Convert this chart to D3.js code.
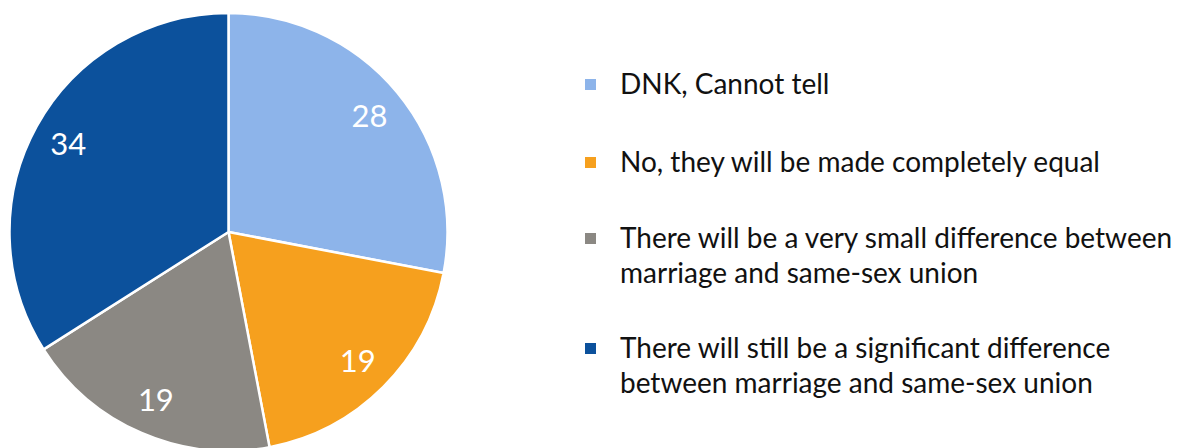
<!DOCTYPE html>
<html>
<head>
<meta charset="utf-8">
<script src="https://cdn.jsdelivr.net/npm/d3@7"></script>
<style>
  html, body { margin: 0; padding: 0; background: #ffffff; }
  svg text { font-family: "Lato", "Open Sans", sans-serif; }
</style>
</head>
<body>
<svg id="chart" width="1180" height="448"></svg>
<script>
// Survey answers, shares in percent
const categories = [
  "DNK, Cannot tell",
  "No, they will be made completely equal",
  "There will be a very small difference between marriage and same-sex union",
  "There will still be a significant difference between marriage and same-sex union"
];
const values = [28, 19, 19, 34];
const colors = ["#8db4ea", "#f6a01e", "#8b8883", "#0c519c"];
// Legend text split into display lines
const legendLines = [
  ["DNK, Cannot tell"],
  ["No, they will be made completely equal"],
  ["There will be a very small difference between", "marriage and same-sex union"],
  ["There will still be a significant difference", "between marriage and same-sex union"]
];

const svg = d3.select("#chart");
const cx = 228.5, cy = 232, radius = 219;

const pie = d3.pie().sort(null).value(d => d)(values);
const arc = d3.arc().innerRadius(0).outerRadius(radius);
const labelArc = d3.arc().innerRadius(radius * 0.835).outerRadius(radius * 0.835);

const g = svg.append("g").attr("transform", `translate(${cx},${cy})`);

g.selectAll("path.slice")
  .data(pie)
  .join("path")
  .attr("class", "slice")
  .attr("d", arc)
  .attr("fill", (d, i) => colors[i])
  .attr("stroke", "#ffffff")
  .attr("stroke-width", 2.5)
  .attr("stroke-linejoin", "round");

g.selectAll("text.value")
  .data(pie)
  .join("text")
  .attr("class", "value")
  .attr("transform", d => `translate(${labelArc.centroid(d)})`)
  .attr("text-anchor", "middle")
  .attr("dy", "0.36em")
  .attr("fill", "#ffffff")
  .attr("font-size", 31)
  .text(d => d.data);

// Legend
const legendX = 585, textX = 620;
const itemBaselines = [94, 172, 248, 358];
const lineHeight = 35;

const items = svg.append("g").selectAll("g.item")
  .data(categories)
  .join("g")
  .attr("class", "item");

items.append("rect")
  .attr("x", legendX)
  .attr("y", (d, i) => itemBaselines[i] - 15)
  .attr("width", 11)
  .attr("height", 11)
  .attr("fill", (d, i) => colors[i]);

items.append("text")
  .attr("x", textX)
  .attr("y", (d, i) => itemBaselines[i])
  .attr("font-size", 28)
  .attr("fill", "#111111")
  .selectAll("tspan")
  .data((d, i) => legendLines[i])
  .join("tspan")
  .attr("x", textX)
  .attr("dy", (d, j) => j === 0 ? 0 : lineHeight)
  .text(d => d);
</script>
</body>
</html>
